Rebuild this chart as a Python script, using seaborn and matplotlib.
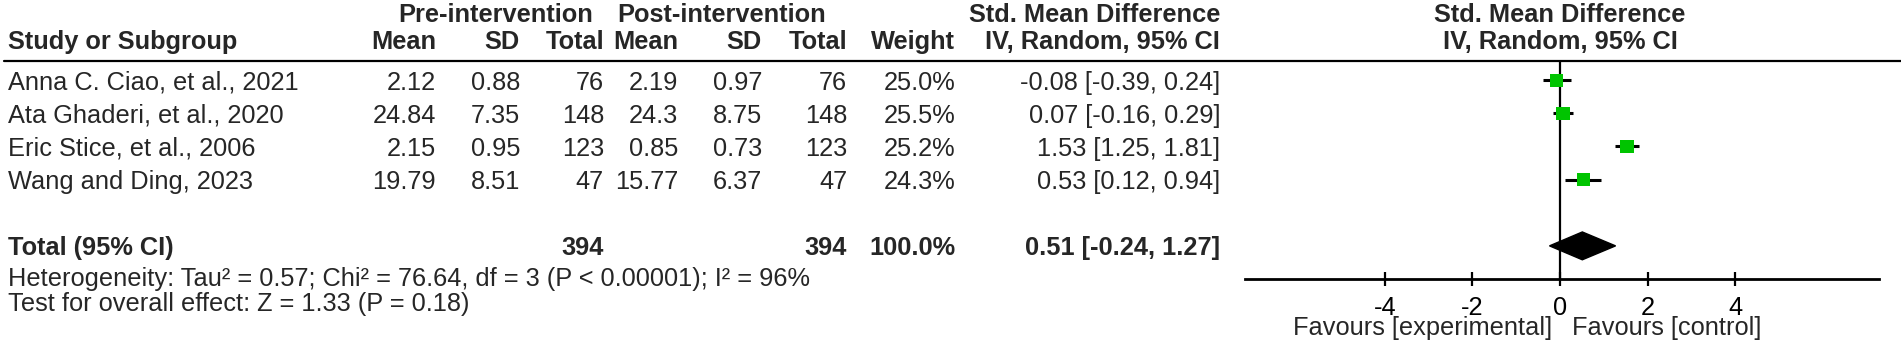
import matplotlib
matplotlib.use("Agg")
import matplotlib.pyplot as plt
import seaborn as sns
import pandas as pd
from matplotlib.lines import Line2D
from matplotlib.transforms import blended_transform_factory

# data
studies = ["Anna C. Ciao, et al., 2021", "Ata Ghaderi, et al., 2020",
           "Eric Stice, et al., 2006", "Wang and Ding, 2023"]
pre_mean = [2.12, 24.84, 2.15, 19.79]
pre_sd = [0.88, 7.35, 0.95, 8.51]
pre_n = [76, 148, 123, 47]
post_mean = [2.19, 24.3, 0.85, 15.77]
post_sd = [0.97, 8.75, 0.73, 6.37]
post_n = [76, 148, 123, 47]
weight = [25.0, 25.5, 25.2, 24.3]
smd = [-0.08, 0.07, 1.53, 0.53]
ci_lo = [-0.39, -0.16, 1.25, 0.12]
ci_hi = [0.24, 0.29, 1.81, 0.94]
total_smd = 0.51
total_lo = -0.24
total_hi = 1.27
heterogeneity = "Heterogeneity: Tau\u00b2 = 0.57; Chi\u00b2 = 76.64, df = 3 (P < 0.00001); I\u00b2 = 96%"
overall = "Test for overall effect: Z = 1.33 (P = 0.18)"
xticks = [-4, -2, 0, 2, 4]

df = pd.DataFrame({"study": studies, "smd": smd, "lo": ci_lo, "hi": ci_hi,
                   "weight": weight, "row": range(len(studies))})

sns.set_theme(style="white")
plt.rcParams["font.family"] = ["Liberation Sans", "DejaVu Sans"]
FS = 18.3

W, H = 1901, 353
fig = plt.figure(figsize=(W / 100, H / 100), dpi=100)
fx = lambda px: px / W
fy = lambda py: 1 - py / H

# forest plot panel (zero at x=1560 px, ~43.75 px per unit)
ax = fig.add_axes([fx(1230), fy(279), (1890 - 1230) / W, (279 - 61) / H])
ax.set_xlim(-7.54, 7.54)
ax.set_ylim(6.0, -0.58)
ax.hlines(df["row"], df["lo"], df["hi"], color="black", lw=2.2, zorder=2)
sns.scatterplot(data=df, x="smd", y="row", size="weight", sizes=(84, 92),
                size_norm=(24.3, 25.5), marker="s", color="#00c400",
                edgecolor="none", legend=False, ax=ax, zorder=3)
trow = len(studies) + 1
ax.fill([total_lo, total_smd, total_hi, total_smd],
        [trow, trow - 0.42, trow, trow + 0.42], color="black", zorder=3)
ax.axvline(0, color="black", lw=1.6, zorder=1)
for s in ["top", "left", "right"]:
    ax.spines[s].set_visible(False)
ax.spines["bottom"].set_bounds(-7.2, 7.3)
ax.spines["bottom"].set_linewidth(2)
ax.spines["bottom"].set_color("black")
ax.set_yticks([])
ax.set_xticks(xticks)
ax.set_xticklabels([str(t) for t in xticks])
ax.tick_params(axis="x", direction="inout", length=10, width=1.6, pad=7,
               labelsize=FS, colors="black", bottom=True)
ax.set_xlabel("")
ax.set_ylabel("")
ax.text(-0.18, -0.225, "Favours [experimental]", transform=ax.get_xaxis_transform(),
        ha="right", va="center", fontsize=FS)
ax.text(0.28, -0.225, "Favours [control]", transform=ax.get_xaxis_transform(),
        ha="left", va="center", fontsize=FS)

# headers
bold = dict(fontsize=FS, fontweight="bold", va="center")
fig.text(fx(496), fy(15), "Pre-intervention", ha="center", **bold)
fig.text(fx(722), fy(15), "Post-intervention", ha="center", **bold)
fig.text(fx(1095), fy(15), "Std. Mean Difference", ha="center", **bold)
fig.text(fx(1560), fy(15), "Std. Mean Difference", ha="center", **bold)
fig.text(fx(8), fy(42), "Study or Subgroup", ha="left", **bold)
col_x = {"pre_mean": 436, "pre_sd": 520, "pre_n": 604,
         "post_mean": 678, "post_sd": 762, "post_n": 847,
         "weight": 955, "ci": 1220}
heads = {"pre_mean": "Mean", "pre_sd": "SD", "pre_n": "Total",
         "post_mean": "Mean", "post_sd": "SD", "post_n": "Total",
         "weight": "Weight", "ci": "IV, Random, 95% CI"}
for k, name in heads.items():
    fig.text(fx(col_x[k]), fy(42), name, ha="right", **bold)
fig.text(fx(1560), fy(42), "IV, Random, 95% CI", ha="center", **bold)
fig.add_artist(Line2D([fx(4), 1], [fy(61), fy(61)], transform=fig.transFigure,
                      color="black", lw=1.6))

# table rows
tr = blended_transform_factory(fig.transFigure, ax.transData)
reg = dict(fontsize=FS, va="center_baseline", transform=tr)
for i in range(len(studies)):
    cells = {"pre_mean": f"{pre_mean[i]:g}", "pre_sd": f"{pre_sd[i]:g}",
             "pre_n": f"{pre_n[i]}", "post_mean": f"{post_mean[i]:g}",
             "post_sd": f"{post_sd[i]:g}", "post_n": f"{post_n[i]}",
             "weight": f"{weight[i]:.1f}%",
             "ci": f"{smd[i]:.2f} [{ci_lo[i]:.2f}, {ci_hi[i]:.2f}]"}
    fig.text(fx(8), i, studies[i], ha="left", **reg)
    for k, v in cells.items():
        fig.text(fx(col_x[k]), i, v, ha="right", **reg)

regb = dict(reg, fontweight="bold")
fig.text(fx(8), trow, "Total (95% CI)", ha="left", **regb)
fig.text(fx(col_x["pre_n"]), trow, f"{sum(pre_n)}", ha="right", **regb)
fig.text(fx(col_x["post_n"]), trow, f"{sum(post_n)}", ha="right", **regb)
fig.text(fx(col_x["weight"]), trow, f"{sum(weight):.1f}%", ha="right", **regb)
fig.text(fx(col_x["ci"]), trow, f"{total_smd:.2f} [{total_lo:.2f}, {total_hi:.2f}]",
         ha="right", **regb)

fig.text(fx(8), fy(279), heterogeneity, ha="left", va="center", fontsize=FS)
fig.text(fx(8), fy(304), overall, ha="left", va="center", fontsize=FS)

fig.savefig("out.png", dpi=100, facecolor="white")
